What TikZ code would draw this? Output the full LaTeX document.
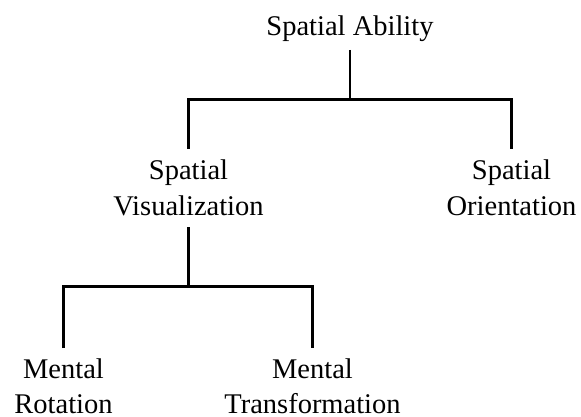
\documentclass[tikz,border=0pt]{standalone}
\usepackage{fontspec}
\setmainfont{Liberation Serif}
\begin{document}
\begin{tikzpicture}[x=1pt,y=-1pt,
  lbl/.style={font=\fontsize{28.5}{35.5}\selectfont, anchor=base, inner sep=0pt},
  link/.style={line width=2.5pt}]
\useasboundingbox (0,0) rectangle (581,417);
\node[lbl] (sa) at (350,36) {Spatial Ability};
\node[lbl] (sv) at (188.5,179.5) {\begin{tabular}[t]{@{}c@{}}Spatial\\Visualization\end{tabular}};
\node[lbl] (so) at (511.5,179.5) {\begin{tabular}[t]{@{}c@{}}Spatial\\Orientation\end{tabular}};
\node[lbl] (mr) at (63.5,378) {\begin{tabular}[t]{@{}c@{}}Mental\\Rotation\end{tabular}};
\node[lbl] (mt) at (312.5,378) {\begin{tabular}[t]{@{}c@{}}Mental\\Transformation\end{tabular}};
\coordinate (h1) at (350,99.5);
\coordinate (h2) at (188.5,286.5);
\draw[link] ([yshift=-14pt]sa.base) -- (h1);
\draw[link] ([yshift=30.5pt]sv.base) |- (h1) -| ([yshift=30.5pt]so.base);
\draw[link] ([yshift=-47.5pt]sv.base) -- (h2);
\draw[link] ([yshift=30pt]mr.base) |- (h2) -| ([yshift=30pt]mt.base);
\end{tikzpicture}
\end{document}
